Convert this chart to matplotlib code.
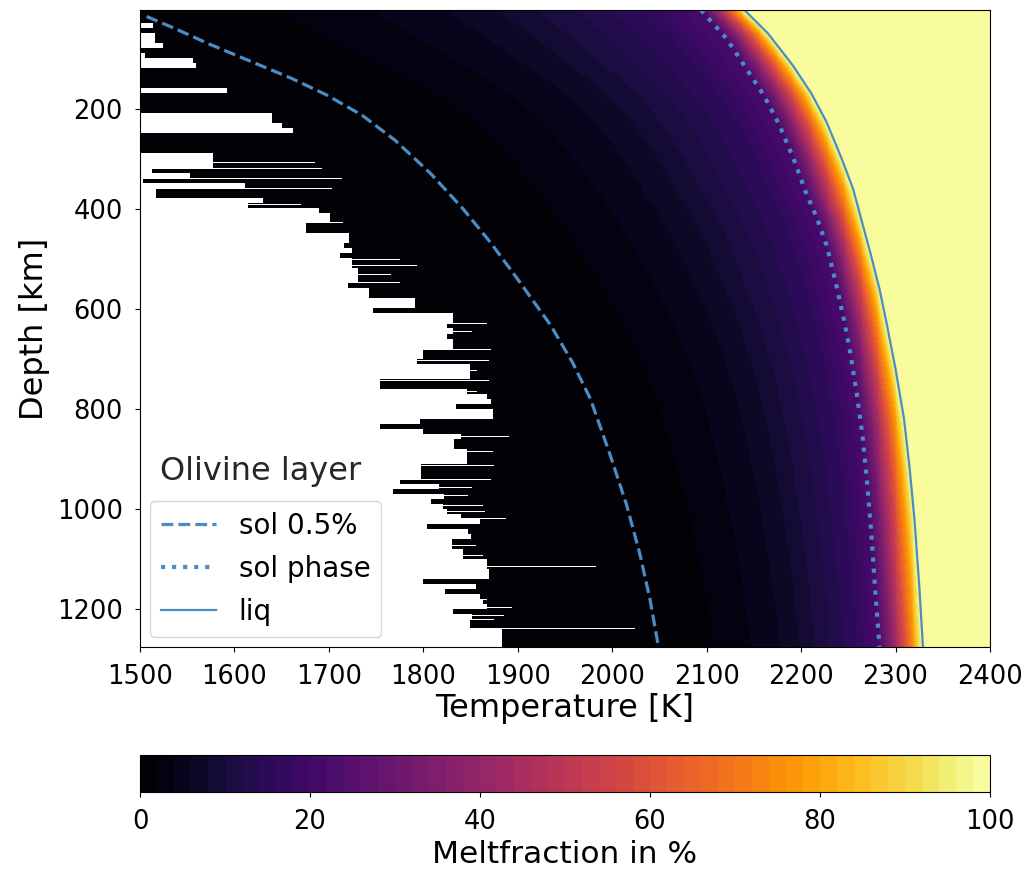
import numpy as np
import matplotlib
matplotlib.use('Agg')
import matplotlib.pyplot as plt
from matplotlib.colors import BoundaryNorm, ListedColormap

# Kurven (Tiefe in km, Temperatur in K)
sol05_depth = [16, 40, 70, 114, 140, 173, 213, 263, 330, 400, 467, 533, 633, 707, 780,
               887, 990, 1087, 1180, 1275]
sol05_T = [1507, 1537, 1572, 1628, 1661, 1698, 1735, 1770, 1808, 1842, 1871, 1897, 1935,
           1958, 1977, 1997, 2015, 2029, 2040, 2049]

solph_depth = [3, 20, 60, 120, 175, 233, 300, 367, 420, 473, 550, 627, 687, 770, 853,
               950, 1040, 1150, 1275]
solph_T = [2094, 2102, 2121, 2142, 2161, 2177, 2192, 2205, 2217, 2227, 2237, 2246, 2252,
           2259, 2265, 2270, 2274, 2278, 2283]

liq_depth = [3, 50, 113, 170, 227, 300, 360, 430, 493, 560, 633, 720, 820, 920, 1020,
             1150, 1275]
liq_T = [2140, 2165, 2191, 2211, 2227, 2243, 2255, 2265, 2274, 2283, 2291, 2300, 2309,
         2315, 2320, 2325, 2329]

# Schmelzanteil ueber normierter Lage zwischen sol 0.5% (0), sol phase (1) und liq (2)
melt_u = [-1.0, 0.0, 0.25, 0.42, 0.55, 0.64, 0.71, 0.78, 0.9, 1.0, 1.2, 1.4, 1.6, 1.8, 1.9, 2.0, 3.0]
melt_pct = [0, 0.5, 2, 4, 6, 8, 10, 12, 16, 22, 32, 45, 60, 78, 90, 100, 100]

# kleinste Temperatur mit Daten, je 10-km-Zeile ab 0 km
white_edge_T = [
    1500, 1500, 1500, 1514, 1500, 1516, 1516, 1524, 1500, 1505,   # 0-90
    1556, 1559, 1500, 1500, 1500, 1500, 1592, 1500, 1500, 1500,   # 100-190
    1500, 1640, 1640, 1650, 1662, 1500, 1500, 1500, 1500, 1577,   # 200-290
    1577, 1577, 1513, 1553, 1503, 1611, 1517, 1517, 1630, 1614,   # 300-390
    1690, 1701, 1701, 1676, 1676, 1721, 1721, 1716, 1725, 1712,   # 400-490
    1724, 1724, 1731, 1731, 1731, 1720, 1742, 1742, 1791, 1791,   # 500-590
    1747, 1831, 1831, 1825, 1831, 1825, 1831, 1831, 1800, 1800,   # 600-690
    1793, 1849, 1849, 1849, 1754, 1754, 1846, 1867, 1872, 1835,   # 700-790
    1874, 1874, 1796, 1754, 1800, 1840, 1832, 1832, 1846, 1846,   # 800-890
    1846, 1798, 1798, 1798, 1775, 1817, 1768, 1822, 1808, 1821,   # 900-990
    1825, 1840, 1860, 1804, 1847, 1850, 1830, 1830, 1842, 1842,   # 1000-1090
    1867, 1867, 1870, 1870, 1800, 1856, 1823, 1860, 1863, 1867,   # 1100-1190
    1831, 1852, 1849, 1849, 1883, 1883, 1883, 1883,               # 1200-1270
]

# duenne weisse Linien (Tiefe, Ende in K)
streak_depth = [309, 320, 341, 360, 392, 428, 502, 515, 532, 548, 630, 645, 681, 702,
                722, 742, 765, 855, 885, 912, 941, 957, 973, 993, 1005, 1018, 1073,
                1093, 1115, 1180, 1197, 1212, 1220, 1239]
streak_T = [1685, 1693, 1714, 1703, 1671, 1715, 1775, 1793, 1766, 1775, 1867, 1852, 1872, 1870,
            1857, 1870, 1857, 1891, 1874, 1875, 1872, 1852, 1847, 1863, 1865, 1888, 1856,
            1863, 1983, 1867, 1894, 1885, 1875, 2024]

line_color = '#4a8cc4'

# Gitter
t_edges = np.arange(1500, 2401, 1.0)
d_edges = np.arange(3, 1276, 2.0)
t_mid = 0.5 * (t_edges[:-1] + t_edges[1:])
d_mid = 0.5 * (d_edges[:-1] + d_edges[1:])

s05 = np.interp(d_mid, sol05_depth, sol05_T)[:, None]
sph = np.interp(d_mid, solph_depth, solph_T)[:, None]
slq = np.interp(d_mid, liq_depth, liq_T)[:, None]
TT = t_mid[None, :]

u = np.where(TT < sph, (TT - s05) / (sph - s05), 1 + (TT - sph) / (slq - sph))
melt = np.interp(u, melt_u, melt_pct)
melt = np.minimum(melt, 99.9)

edge = np.array(white_edge_T, dtype=float)
row = np.clip((d_mid // 10).astype(int), 0, len(edge) - 1)
mask = TT < edge[row][:, None]
for d, te in zip(streak_depth, streak_T):
    i = np.argmin(np.abs(d_mid - d))
    mask[i, t_mid < te] = True

levels = np.linspace(0, 100, 51)
cmap = ListedColormap(plt.get_cmap('inferno')((np.arange(50) + 0.5) / 50))
norm = BoundaryNorm(levels, 50)

fig = plt.figure(figsize=(10.26, 8.71), dpi=100)
ax = fig.add_axes([140 / 1026, 1 - 647 / 871, 850 / 1026, 637 / 871])
cax = fig.add_axes([140 / 1026, 1 - 792 / 871, 850 / 1026, 37 / 871])

pc = ax.pcolormesh(t_edges, d_edges, np.ma.array(melt, mask=mask),
                   cmap=cmap, norm=norm, rasterized=True)

ax.plot(sol05_T, sol05_depth, '--', lw=2.3, color=line_color, label='sol 0.5%')
ax.plot(solph_T, solph_depth, ':', lw=3, color=line_color, label='sol phase')
ax.plot(liq_T, liq_depth, '-', lw=1.6, color=line_color, label='liq')

ax.set_xlim(1500, 2400)
ax.set_ylim(1275, 3)
ax.set_xticks(range(1500, 2401, 100))
ax.set_yticks(range(200, 1201, 200))
ax.tick_params(labelsize=18.5, pad=9)
ax.set_xlabel('Temperature [K]', fontsize=23, labelpad=2)
ax.set_ylabel('Depth [km]', fontsize=23, labelpad=5)

ax.text(0.0235, 0.276, 'Olivine layer', transform=ax.transAxes,
        fontsize=23, va='center', ha='left', color='#262626')
ax.legend(loc='lower left', fontsize=20, borderaxespad=0.35, labelspacing=0.55)

cb = fig.colorbar(pc, cax=cax, orientation='horizontal', ticks=range(0, 101, 20))
cb.ax.minorticks_off()
cb.ax.tick_params(labelsize=18.5, pad=9)
cb.set_label('Meltfraction in %', fontsize=22.5, labelpad=3)

fig.savefig('out.png', dpi=100)
